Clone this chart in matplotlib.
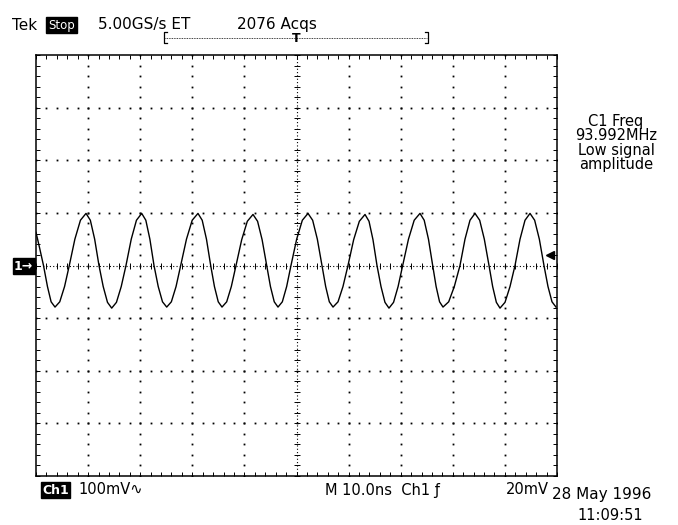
import numpy as np
import matplotlib
matplotlib.use("Agg")
import matplotlib.pyplot as plt
from matplotlib.lines import Line2D

plt.rcParams['font.family'] = ['DejaVu Sans']

time_ns = [0.00, 0.70, 1.44, 2.20, 2.90, 3.65,
           4.56, 5.48, 6.39, 7.46, 8.53, 9.60, 10.43, 11.26, 12.09, 12.90, 13.72, 14.53,
           15.44, 16.36, 17.27, 18.28, 19.28, 20.29, 21.08, 21.86, 22.65, 23.46, 24.28, 25.09,
           25.98, 26.88, 27.77, 28.88, 29.98, 31.09, 31.90, 32.72, 33.53, 34.25, 34.98, 35.70,
           36.60, 37.49, 38.39, 39.48, 40.56, 41.65, 42.53, 43.40, 44.28, 45.00, 45.73, 46.45,
           47.28, 48.11, 48.94, 50.03, 51.12, 52.21, 53.10, 54.00, 54.89, 55.60, 56.30, 57.01,
           57.97, 58.92, 59.88, 60.97, 62.06, 63.15, 63.92, 64.68, 65.45, 66.22, 66.98, 67.75,
           68.63, 69.50, 70.38, 71.49, 72.59, 73.70, 74.51, 75.33, 76.14, 76.80, 77.46, 78.12,
           79.21, 80.29, 81.38, 82.34, 83.30, 84.26, 85.16, 86.05, 86.95, 87.65, 88.36, 89.06,
           90.02, 90.98, 91.94, 92.90, 93.86, 94.82, 95.71, 96.61, 97.50, 98.27, 99.04, 99.81]
volts_mV = [63, 33, 0, -40, -69, -79,
            -69, -40, 0, 50, 86, 99, 86, 50, 0, -40, -70, -81,
            -70, -40, 0, 50, 86, 99, 86, 50, 0, -40, -69, -79,
            -69, -40, 0, 50, 86, 99, 86, 50, 0, -40, -69, -79,
            -69, -40, 0, 49, 84, 97, 84, 49, 0, -40, -69, -79,
            -69, -40, 0, 50, 86, 99, 86, 50, 0, -40, -69, -79,
            -69, -40, 0, 49, 84, 97, 84, 49, 0, -40, -70, -81,
            -70, -40, 0, 50, 86, 99, 86, 50, 0, -40, -69, -79,
            -69, -40, 0, 50, 86, 99, 86, 50, 0, -40, -70, -81,
            -70, -40, 0, 50, 86, 99, 86, 50, 0, -40, -69, -79]
trigger_level_mV = 20

header_brand = "Tek"
run_state = "Stop"
sample_rate = "5.00GS/s ET"
acq_count = "2076 Acqs"
meas_lines = ["C1 Freq", "93.992MHz", "Low signal", "amplitude"]
ch_label = "Ch1"
ch_scale = "100mV\u223f"
timebase = "M 10.0ns  Ch1 \u0192"
trig_text = "20mV"
date_text = "28 May 1996"
clock_text = "11:09:51"
marker_text = "1\u2192"

# ---------------- layout ----------------
W, H = 678, 525
fig = plt.figure(figsize=(W / 100, H / 100), dpi=100)
fig.patch.set_facecolor("white")

def fx(px):
    return px / W

def fy(py):
    return 1 - py / H

L, R, T, B = 36, 557, 55, 476
ax = fig.add_axes([fx(L), fy(B), (R - L) / W, (B - T) / H])
ax.set_xlim(0, 100)
ax.set_ylim(-400, 400)
for s in ax.spines.values():
    s.set_linewidth(1.1)
ax.set_xticks(np.arange(0, 100.01, 2))
ax.set_yticks(np.arange(-400, 400.01, 20))
ax.tick_params(direction='in', length=3, width=0.7, top=True, right=True,
               labelbottom=False, labelleft=False)

minor_x = np.arange(0, 100.01, 2)
minor_y = np.arange(-400, 400.01, 20)
# graticule dots
for gx in np.arange(10, 91, 10):
    if gx == 50:
        continue
    ax.plot(np.full_like(minor_y, gx), minor_y, ls='none', marker='s', ms=1.3,
            mew=0, color='k')
for gy in np.arange(-300, 301, 100):
    if gy == 0:
        continue
    ax.plot(minor_x, np.full_like(minor_x, gy), ls='none', marker='s', ms=1.3,
            mew=0, color='k')
# center lines
ax.axvline(50, ls=(0, (1, 2)), lw=0.8, color='k')
ax.axhline(0, ls=(0, (1, 2)), lw=0.8, color='k')
ax.plot(np.full_like(minor_y, 50), minor_y, ls='none', marker='_', ms=5, mew=0.7, color='k')
ax.plot(minor_x, np.full_like(minor_x, 0), ls='none', marker='|', ms=5, mew=0.7, color='k')

# waveform
ax.plot(time_ns, volts_mV, color='k', lw=1.0, solid_joinstyle='round')

# trigger level arrow
ax.plot([98.7], [trigger_level_mV], marker='<', ms=6, color='k', clip_on=False)

# ---------------- header ----------------
fs = 11
fig.text(fx(12), fy(25), header_brand, fontsize=fs, va='center', ha='left')
fig.text(fx(48), fy(25), run_state, fontsize=8.5, va='center', ha='left', color='white',
         bbox=dict(facecolor='black', edgecolor='black', pad=1.3))
fig.text(fx(98), fy(25), sample_rate, fontsize=fs, va='center', ha='left')
fig.text(fx(237), fy(25), acq_count, fontsize=fs, va='center', ha='left')

# trigger position bracket
fig.add_artist(Line2D([fx(167), fx(164), fx(164), fx(167)],
                      [fy(32), fy(32), fy(43), fy(43)], color='k', lw=0.9))
fig.add_artist(Line2D([fx(425), fx(428), fx(428), fx(425)],
                      [fy(32), fy(32), fy(43), fy(43)], color='k', lw=0.9))
fig.add_artist(Line2D([fx(165), fx(427)], [fy(37.5), fy(37.5)], color='k',
                      lw=0.6, ls=(0, (1, 1))))
fig.text(fx(296), fy(38), "T", fontsize=9, fontweight='bold', ha='center', va='center')

# measurement readout
fig.text(fx(616), fy(143), "\n".join(meas_lines), fontsize=10.5, ha='center',
         va='center', multialignment='center', linespacing=0.92)

# ground marker
fig.text(fx(14), fy(266), marker_text, fontsize=9, fontweight='bold', color='white',
         ha='left', va='center', bbox=dict(facecolor='black', edgecolor='black', pad=1.0))

# ---------------- footer ----------------
fig.text(fx(42), fy(490), ch_label, fontsize=9, fontweight='bold', color='white',
         ha='left', va='center', bbox=dict(facecolor='black', edgecolor='black', pad=1.0))
fig.text(fx(78), fy(490), ch_scale, fontsize=10.5, ha='left', va='center')
fig.text(fx(325), fy(490), timebase, fontsize=10.5, ha='left', va='center')
fig.text(fx(506), fy(490), trig_text, fontsize=10.5, ha='left', va='center')
fig.text(fx(552), fy(495), date_text, fontsize=11, ha='left', va='center')
fig.text(fx(577), fy(515), clock_text, fontsize=10.5, ha='left', va='center')

fig.savefig("out.png", dpi=100, facecolor="white")
